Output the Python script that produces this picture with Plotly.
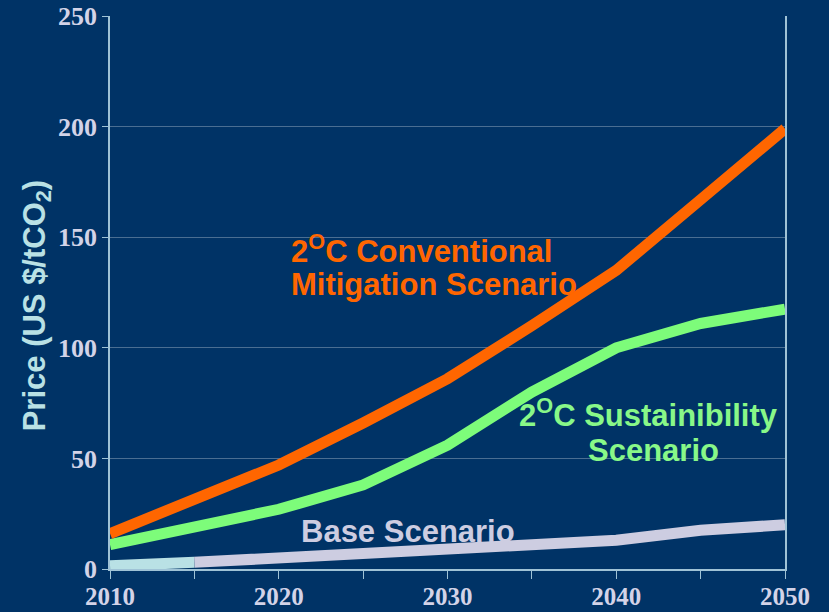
import plotly.graph_objects as go

years = [2010, 2015, 2020, 2025, 2030, 2035, 2040, 2045, 2050]
conventional = [16, 31, 47, 66, 86, 110, 135, 167, 199]
sustainability = [11, 18.5, 27, 38, 56, 80, 100, 111, 117.5]
base = [1.5, 3, 5, 7, 8, 10, 13, 17.5, 20]

x_ticks = [2010, 2020, 2030, 2040, 2050]
y_ticks = [0, 50, 100, 150, 200, 250]

bg = "#003366"
axis_col = "#9FC3D6"
tick_font = dict(family="Liberation Serif", size=26, color="#D3D3E8")

fig = go.Figure()

# base scenario: first five years in light cyan, remainder in lavender
fig.add_trace(go.Scatter(x=years[:2], y=base[:2], mode="lines",
                         line=dict(color="#B9E1E5", width=11), hoverinfo="skip"))
fig.add_trace(go.Scatter(x=years[1:], y=base[1:], mode="lines",
                         line=dict(color="#CDCDE1", width=11), hoverinfo="skip"))
fig.add_trace(go.Scatter(x=years, y=sustainability, mode="lines",
                         line=dict(color="#7DFC7A", width=11)))
fig.add_trace(go.Scatter(x=years, y=conventional, mode="lines",
                         line=dict(color="#FF6600", width=11)))

label_font = dict(family="Liberation Sans", size=31)


def label(text, x, y, color, anchor):
    fig.add_annotation(x=x, y=y, xref="x", yref="y", text=f"<b>{text}</b>",
                       showarrow=False, xanchor=anchor, yanchor="middle",
                       font=dict(label_font, color=color))


label("2<sup>O</sup>C Conventional", 2020.6, 144.5, "#FF6600", "left")
label("Mitigation Scenario", 2020.6, 128.5, "#FF6600", "left")
label("2<sup>O</sup>C Sustainibility", 2041.9, 70.5, "#88F888", "center")
label("Scenario", 2042.2, 53.5, "#88F888", "center")
label("Base Scenario", 2021.2, 17, "#CDCDE1", "left")

# rotated axis title placed in paper coordinates
fig.add_annotation(x=-0.108, y=0.477, xref="paper", yref="paper",
                   text="<b>Price (US $/tCO<sub>2</sub>)</b>", textangle=-90,
                   showarrow=False, xanchor="center", yanchor="middle",
                   font=dict(family="Liberation Sans", size=31, color="#B9E1E5"))

fig.update_layout(
    width=829, height=612,
    paper_bgcolor=bg, plot_bgcolor=bg,
    margin=dict(l=110, r=44, t=16, b=43),
    showlegend=False,
    xaxis=dict(range=[2010, 2050], tickvals=x_ticks,
               ticktext=[f"<b>{v}</b>" for v in x_ticks],
               tickfont=dict(tick_font, size=25), ticklabelstandoff=-4,
               showgrid=False, zeroline=False, automargin=False,
               showline=True, linecolor=axis_col, linewidth=1.5,
               ticks="outside", ticklen=8, tickcolor=axis_col,
               minor=dict(dtick=5, ticks="outside", ticklen=8, tickcolor=axis_col, showgrid=False)),
    yaxis=dict(range=[0, 250], tickvals=y_ticks,
               ticktext=[f"<b>{v}</b>" for v in y_ticks],
               tickfont=tick_font, showgrid=True, gridcolor="#4A6E92", gridwidth=1,
               zeroline=False, showline=True, linecolor=axis_col, linewidth=1.5,
               mirror=True, ticks="outside", ticklen=6, tickcolor=axis_col,
               automargin=False),
)

fig.write_html("out.html")
